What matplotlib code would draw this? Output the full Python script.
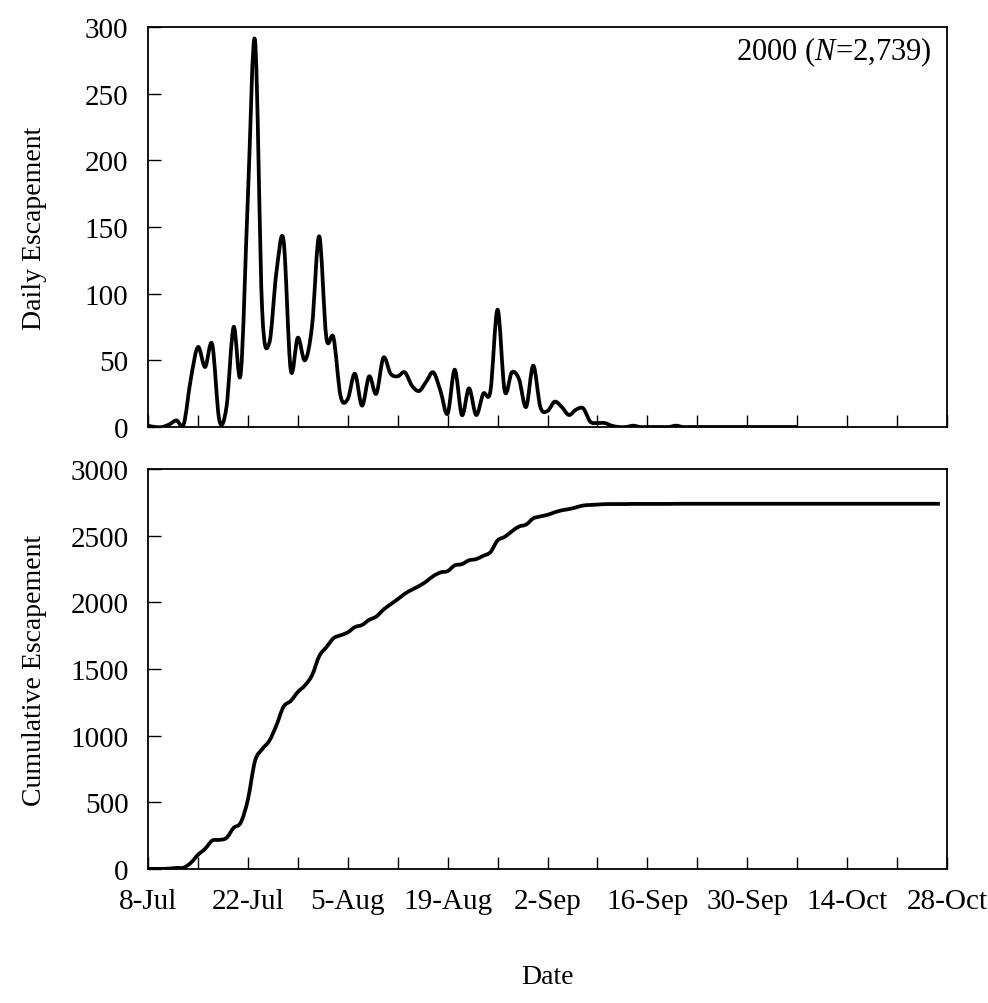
'''
Daily and cumulative escapement, 2000 season
'''

import matplotlib
matplotlib.use('Agg')
import matplotlib.pyplot as plt
import matplotlib.dates as mdates
from matplotlib.path import Path
from matplotlib.patches import PathPatch
import numpy as np
import pandas as pd

plt.rcParams['font.family'] = ['Liberation Serif', 'DejaVu Serif']
plt.rcParams['mathtext.fontset'] = 'custom'
plt.rcParams['mathtext.rm'] = 'Liberation Serif'
plt.rcParams['mathtext.it'] = 'Liberation Serif:italic'

# first counting day and end of the season (cumulative line runs to here)
season_start = '2000-07-08'
season_end = '2000-10-27'

# daily counts, one per day from 8-Jul
daily = [
    1, 0, 0, 2, 5, 2, 36, 60, 45, 62,
    5, 15, 75, 40, 172, 290, 88, 63, 116, 140,
    43, 67, 50, 76, 143, 67, 67, 23, 21, 40,
    16, 38, 25, 52, 40, 38, 41, 31, 27, 34,
    41, 27, 10, 43, 9, 29, 9, 25, 27, 88,
    27, 41, 36, 15, 46, 15, 12, 19, 15, 9,
    13, 14, 4, 3, 3, 1, 0, 0, 1, 0,
    0, 0, 0, 0, 1, 0, 0, 0, 0, 0,
    0, 0, 0, 0, 0, 0, 0, 0, 0, 0,
    0, 0,
]

tick_labels = ['8-Jul', '22-Jul', '5-Aug', '19-Aug', '2-Sep',
               '16-Sep', '30-Sep', '14-Oct', '28-Oct']
daily_ticks = [0, 50, 100, 150, 200, 250, 300]
cum_ticks = [0, 500, 1000, 1500, 2000, 2500, 3000]
year_label = '2000 ($\\mathit{N}$=2,739)'


def smooth_line(ax, x, y, lw):
    '''draw a smoothed line (like the spreadsheet "smoothed line" option):
    bezier segments through every data point'''
    x = np.asarray(x, dtype=float)
    y = np.asarray(y, dtype=float)
    n = len(x)
    verts = [(x[0], y[0])]
    codes = [Path.MOVETO]
    for i in range(n - 1):
        a = max(i - 1, 0)
        b = min(i + 2, n - 1)
        c1 = (x[i] + (x[i + 1] - x[a]) / 6, y[i] + (y[i + 1] - y[a]) / 6)
        c2 = (x[i + 1] - (x[b] - x[i]) / 6, y[i + 1] - (y[b] - y[i]) / 6)
        verts += [c1, c2, (x[i + 1], y[i + 1])]
        codes += [Path.CURVE4] * 3
    patch = PathPatch(Path(verts, codes), facecolor='none', edgecolor='black',
                      linewidth=lw, joinstyle='round', capstyle='butt')
    ax.add_patch(patch)


def main():
    dates = pd.date_range(season_start, periods=len(daily))
    daily_s = pd.Series(daily, index=dates)
    cum_s = daily_s.reindex(pd.date_range(season_start, season_end),
                            fill_value=0).cumsum()

    fig = plt.figure(figsize=(9.88, 10.04), dpi=100)
    ax1 = fig.add_axes([0.1498, 0.5737, 0.8087, 0.3984])
    ax2 = fig.add_axes([0.1498, 0.1335, 0.8087, 0.3984])

    smooth_line(ax1, mdates.date2num(daily_s.index), daily_s.values, 2.7)
    smooth_line(ax2, mdates.date2num(cum_s.index), cum_s.values, 2.7)

    major = mdates.date2num(pd.date_range(season_start, '2000-10-28', freq='14D'))
    minor = mdates.date2num(pd.date_range('2000-07-15', '2000-10-28', freq='14D'))

    for ax, yt, ylab in [(ax1, daily_ticks, 'Daily Escapement'),
                         (ax2, cum_ticks, 'Cumulative Escapement')]:
        ax.set_xlim(major[0], major[-1])
        ax.set_ylim(yt[0], yt[-1])
        ax.set_yticks(yt)
        ax.set_xticks(major)
        ax.set_xticks(minor, minor=True)
        ax.tick_params(axis='both', which='both', direction='in', length=9,
                       width=1, top=False, right=False, labelsize=21)
        ax.tick_params(axis='y', pad=14)
        ax.tick_params(axis='x', pad=14)
        ax.set_ylabel(ylab, fontsize=20)
        ax.yaxis.set_label_coords(-0.126, 0.5)
        for sp in ax.spines.values():
            sp.set_linewidth(1.3)

    ax1.set_xticklabels([])
    ax2.set_xticklabels(tick_labels)
    ax2.set_xlabel('Date', fontsize=20, labelpad=36)

    ax1.text(0.981, 0.94, year_label, transform=ax1.transAxes,
             ha='right', va='center', fontsize=22)

    plt.savefig('out.png', dpi=100)
    plt.clf()


if __name__ == '__main__':
    main()
